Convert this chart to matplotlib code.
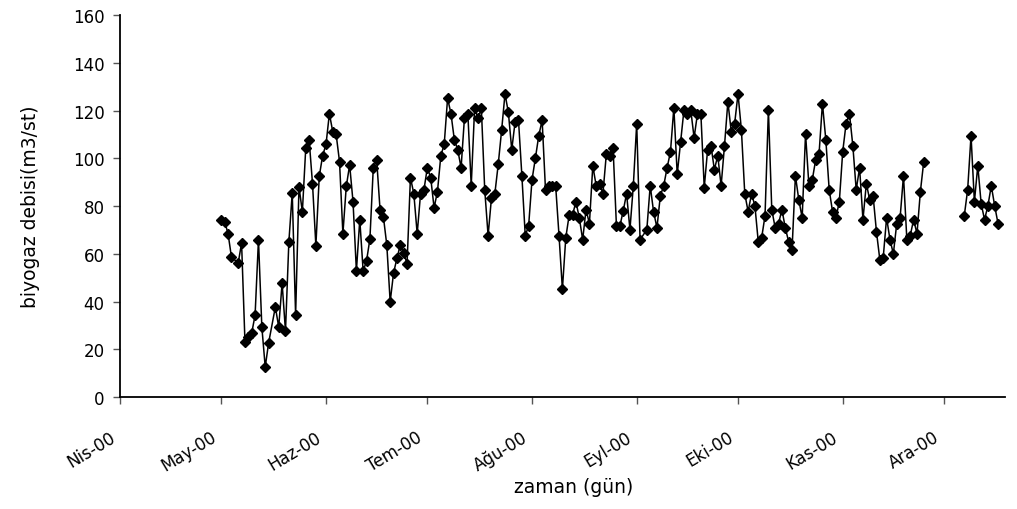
############################## IMPORTS ##############################
import numpy as np
import pandas as pd
import matplotlib
matplotlib.use("Agg")
import matplotlib.pyplot as plt
from matplotlib.transforms import ScaledTranslation
################################ FIN ################################

############################# DATA SETUP #############################
## Daily biogas flow, 1 May 2000 - 25 Nov 2000 (None = no reading that day)
debi_1 = [74.3, 73.4, 68.4, 58.6, None, 56.1, 64.5, 23.2, 25.0, 26.8,
          34.3, 65.9, 29.3, 12.6, 22.6, None, 37.7, 29.3, 47.7, 27.6,
          65.0, 85.4, 34.3, 88.0, 77.6, 104.2, 107.8, 89.4, 63.4, 92.4,
          101.1, 105.8, 118.7, 111.1, 110.0, 98.6, 68.4, 88.2, 97.2, 81.8,
          52.8, 74.3, 52.8, 57.0, 66.2, 96.0, 99.4, 78.5, 75.4, 63.7,
          39.9, 51.9, 58.1, 63.7, 60.3, 55.8, 91.9, 85.2, 68.4, 85.2,
          86.8, 96.0, 91.9, 79.3, 86.0, 101.1, 105.8, 125.1, 118.7, 107.8,
          103.6, 96.0, 117.0, 118.7, 88.5, 120.9, 116.7, 120.9, 86.8, 67.6,
          83.5, 85.2, 97.5, 111.7, 127.0, 119.2, 103.6, 115.3, 115.9, 92.7,
          67.6, 71.7, 91.0, 100.0, 109.5, 115.9, 86.6, 88.5, 88.5, 88.5,
          67.6, 45.2, 66.7, 76.2, 76.2, 81.8, 75.1, 65.9, 78.5, 72.6,
          96.9, 88.5, 89.4, 85.2, 101.6, 101.1, 104.4, 71.7, 71.5, 77.9,
          85.2, 70.1, 88.5, 114.5, 65.9, None, 70.1, 88.5, 77.6, 70.9,
          84.3, 88.5, 96.0, 102.7, 121.2, 93.3, 106.9, 120.3, 118.7, 120.3,
          108.6, 118.7, 118.7, 87.7, 103.6, 105.3, 95.2, 101.1, 88.5, 105.3,
          123.7, 111.1, 114.5, 127.0, 112.0, 85.2, 77.6, 85.2, 80.1, 65.0,
          66.7, 75.9, 120.3, 78.5, 70.9, 72.6, 78.5, 70.9, 65.0, 61.7,
          92.7, 82.6, 75.1, 110.3, 88.5, 91.0, 99.4, 101.9, 122.9, 107.8,
          86.8, 77.6, 75.1, 81.8, 102.7, 114.5, 118.7, 105.3, 86.8, 96.0,
          74.3, 89.4, 82.6, 84.3, 69.2, 57.5, 58.4, 75.1, 65.9, 60.0,
          72.6, 75.1, 92.7, 65.9, 67.6, 74.3, 68.4, 86.0, 98.6]

## Second run of readings, 7 Dec 2000 - 17 Dec 2000
debi_2 = [75.9, 86.8, 109.5, 81.8, 96.9, 81.0, 74.3, 80.1, 88.5, 80.1, 72.6]

aylar = ["Nis-00", "May-00", "Haz-00", "Tem-00", "Ağu-00",
         "Eyl-00", "Eki-00", "Kas-00", "Ara-00"]

seri_1 = pd.Series(debi_1, index=pd.date_range("2000-05-01", periods=len(debi_1)), dtype=float).dropna()
seri_2 = pd.Series(debi_2, index=pd.date_range("2000-12-07", periods=len(debi_2)), dtype=float)
################################ FIN ################################

############################## PLOTTING ##############################
plt.rcParams["font.family"] = ["DejaVu Sans"]

fig = plt.figure(figsize=(10.17, 5.10), dpi=100)
ax = fig.add_axes([0.118, 0.2196, 0.870, 0.749])

for seri in (seri_1, seri_2):
    ax.plot(seri.index, seri.values, color="black", linewidth=1.1,
            marker="D", markersize=5, markerfacecolor="black", markeredgecolor="black")

ax.set_ylim(0, 160)
ax.set_yticks(np.arange(0, 161, 20))
ax.set_xlim(pd.Timestamp("2000-04-01"), pd.Timestamp("2000-12-19"))

ay_basi = pd.date_range("2000-04-01", periods=len(aylar), freq="MS")
ax.set_xticks(ay_basi)
ax.set_xticklabels(aylar, rotation=31, ha="right", rotation_mode="anchor")

ax.tick_params(axis="both", labelsize=12, direction="out", length=5, width=1, color="#555555")
ax.tick_params(axis="y", pad=6)
ax.tick_params(axis="x", pad=17)

## shift month labels left of their ticks, like the original
kaydir = ScaledTranslation(-11 / 100, 0, fig.dpi_scale_trans)
for lbl in ax.get_xticklabels():
    lbl.set_transform(lbl.get_transform() + kaydir)

for side in ("top", "right"):
    ax.spines[side].set_visible(False)
for side in ("left", "bottom"):
    ax.spines[side].set_linewidth(1.3)

ax.set_xlabel("zaman (gün)", fontsize=13.5)
ax.xaxis.set_label_coords(0.5 + 11 / 885, -0.21)
ax.set_ylabel("biyogaz debisi(m3/st)", fontsize=13.5, labelpad=24)

fig.savefig("out.png", dpi=100)
################################ FIN ################################
